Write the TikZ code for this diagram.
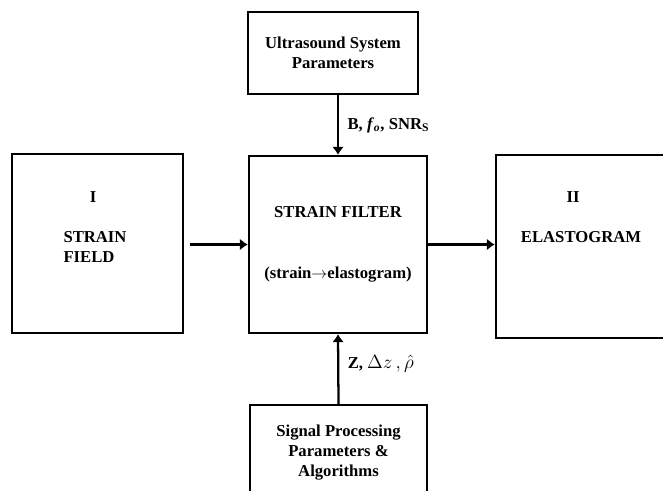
\documentclass[tikz,border=0pt]{standalone}
\usepackage{fontspec}
\setmainfont{Liberation Serif}
\usetikzlibrary{arrows.meta,positioning}

\newcommand\blkfont{\fontsize{12.5}{15}\selectfont\bfseries}

\tikzset{
  blk/.style={draw,line width=1.8pt,align=center,font=\blkfont},
  flow/.style={line width=1.7pt,-{Latex[length=6pt,width=9pt]}},
  txt/.style={font=\blkfont,inner sep=0pt}
}

\begin{document}
\begin{tikzpicture}[x=0.75pt,y=-0.75pt]
\useasboundingbox (0,0) rectangle (663,491);
% the blocks
\node[blk,minimum width=170*0.75pt,minimum height=82*0.75pt] (usp) at (333,53)
  {Ultrasound System\\Parameters};
\node[blk,minimum width=178*0.75pt,minimum height=177*0.75pt] (filt) at (338,244.5)
  {STRAIN FILTER\\[31pt](strain$\rightarrow$elastogram)};
\node[blk,minimum width=171*0.75pt,minimum height=179*0.75pt] (strain) at (97.5,243.5) {};
\node[blk,minimum width=178*0.75pt,minimum height=183*0.75pt] (elast) at (585,246.5) {};
\node[blk,minimum width=177*0.75pt,minimum height=95*0.75pt] (spp) at (338.5,452.5)
  {Signal Processing\\Parameters \&\\Algorithms};
% texts in the side blocks
\node[txt] (one) at (93,197) {I};
\node[txt,align=left] (sf) at (95,247) {STRAIN\\FIELD};
\node[txt] (two) at (573,197) {II};
\node[txt] (el) at (581,237) {ELASTOGRAM};
% connectors
\draw[flow] (usp.south -| filt.north) -- (filt.north)
  node[midway,right,xshift=3pt,font=\blkfont] (sys)
  {B,~\textit{f}\textsubscript{\textit{o}}, SNR\textsubscript{S}};
\draw[flow] (spp.north) -- (filt.south)
  node[pos=0.58,right,xshift=3pt,font=\blkfont] (proc)
  {Z, {\fontsize{15}{18}\selectfont$\Delta z\,,\hat{\rho}$}};
\draw[flow,shorten <=4pt] (strain.east |- filt.west) -- (filt.west);
\draw[flow] (filt.east) -- (elast.west |- filt.east);
\end{tikzpicture}
\end{document}
